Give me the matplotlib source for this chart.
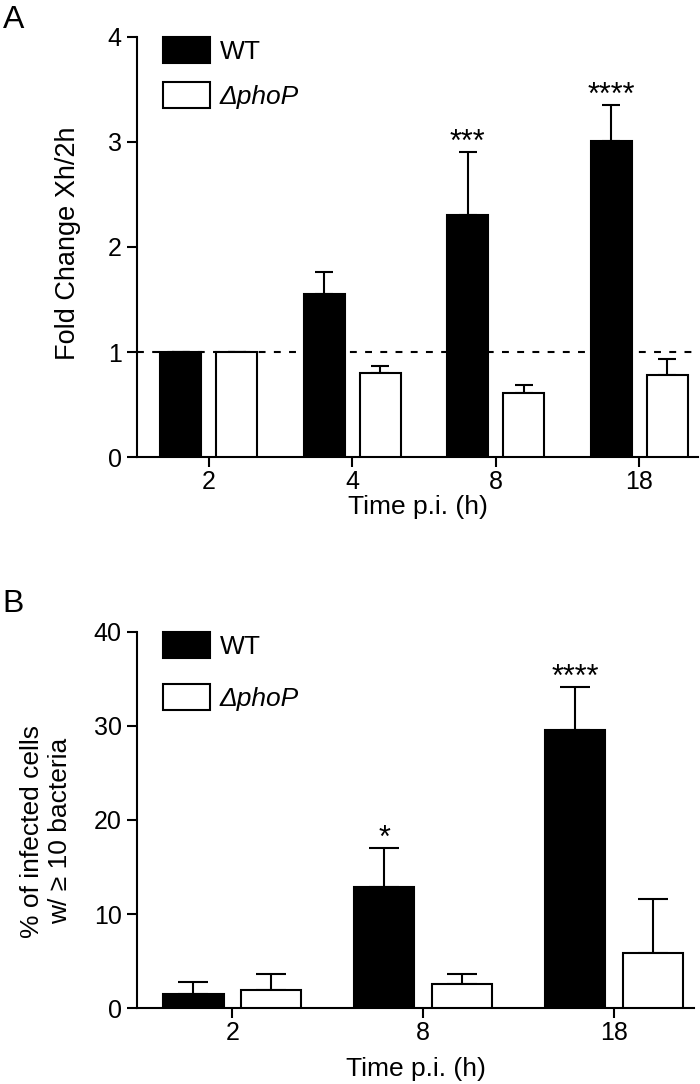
import matplotlib
matplotlib.use('Agg')
import matplotlib.pyplot as plt
import numpy as np

plt.rcParams['font.family'] = ['Liberation Sans', 'DejaVu Sans']

# panel A: fold change Xh/2h
times_a = ['2', '4', '8', '18']
wt_a = [1.0, 1.55, 2.30, 3.01]
wt_a_err = [0.0, 0.21, 0.60, 0.34]
pho_a = [1.0, 0.80, 0.61, 0.78]
pho_a_err = [0.0, 0.07, 0.08, 0.15]
stars_a = ['', '', '***', '****']

# panel B: % infected cells with >= 10 bacteria
times_b = ['2', '8', '18']
wt_b = [1.5, 12.9, 29.6]
wt_b_err = [1.3, 4.1, 4.5]
pho_b = [1.9, 2.6, 5.9]
pho_b_err = [1.7, 1.0, 5.7]
stars_b = ['', '*', '****']

labels = ['WT', 'ΔphoP']

fig = plt.figure(figsize=(7, 10.84), dpi=100)
axA = fig.add_axes([0.1957, 0.5784, 0.8013, 0.3875])
axB = fig.add_axes([0.1957, 0.0701, 0.7957, 0.3469])


def draw(ax, times, wt, wt_err, pho, pho_err, stars, width, offset, capsize):
  x = np.arange(len(times))
  ax.bar(x - offset, wt, width, color='black', edgecolor='black',
         linewidth=1.5, label=labels[0], zorder=3)
  ax.bar(x + offset, pho, width, color='white', edgecolor='black',
         linewidth=1.5, label=labels[1], zorder=3)
  for xs, vals, errs in [(x - offset, wt, wt_err), (x + offset, pho, pho_err)]:
    ax.errorbar(xs, vals, yerr=[np.zeros(len(errs)), errs], fmt='none',
                ecolor='black', elinewidth=1.5, capsize=capsize,
                capthick=1.5, zorder=2)
  for xi, v, e, s in zip(x - offset, wt, wt_err, stars):
    if s:
      ax.annotate(s, (xi, v + e), xytext=(0, -4), textcoords='offset points',
                  ha='center', va='bottom', fontsize=22)
  ax.set_xticks(x)
  ax.set_xticklabels(times)
  for side in ['top', 'right']:
    ax.spines[side].set_visible(False)
  for side in ['left', 'bottom']:
    ax.spines[side].set_linewidth(1.5)
  ax.tick_params(width=1.5, length=7, labelsize=18, pad=4)
  ax.tick_params(axis='x', pad=2)


def legend(ax, spacing):
  leg = ax.legend(loc='upper left', bbox_to_anchor=(0.046, 1.0),
                  frameon=False, borderaxespad=0, borderpad=0,
                  handlelength=1.78, handleheight=1.14, handletextpad=0.38,
                  labelspacing=spacing, fontsize=19)
  leg.get_texts()[1].set_style('italic')


draw(axA, times_a, wt_a, wt_a_err, pho_a, pho_a_err, stars_a,
     0.286, 0.195, 6.5)
axA.axhline(1, color='black', lw=1.5, dashes=(3.3, 4), zorder=1)
axA.set_xlim(-0.5, 3.41)
axA.set_ylim(0, 4)
axA.set_yticks([0, 1, 2, 3, 4])
axA.set_ylabel('Fold Change Xh/2h', fontsize=19.5)
axA.yaxis.set_label_coords(-0.10, 0.51)
axA.set_xlabel('Time p.i. (h)', fontsize=19, labelpad=1)
legend(axA, 0.7)

draw(axB, times_b, wt_b, wt_b_err, pho_b, pho_b_err, stars_b,
     0.316, 0.204, 10.8)
axB.set_xlim(-0.5, 2.42)
axB.set_ylim(0, 40)
axB.set_yticks([0, 10, 20, 30, 40])
axB.set_ylabel('% of infected cells\nw/ ≥ 10 bacteria', fontsize=19,
               linespacing=1.2)
axB.yaxis.set_label_coords(-0.117, 0.47)
axB.set_xlabel('Time p.i. (h)', fontsize=19, labelpad=9)
legend(axB, 0.95)

fig.text(0.004, 0.982, 'A', fontsize=23, va='center', ha='left')
fig.text(0.004, 0.443, 'B', fontsize=23, va='center', ha='left')

fig.savefig('out.png', dpi=100)
